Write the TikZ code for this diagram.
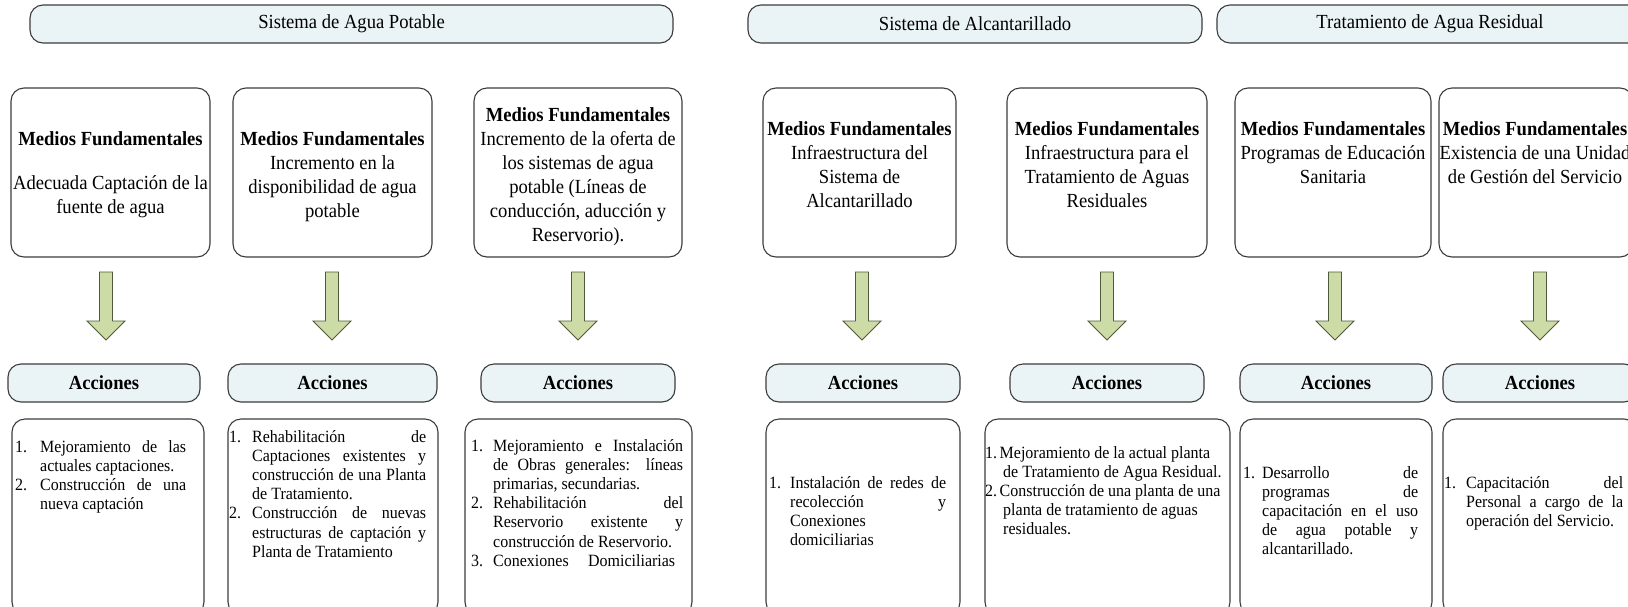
\documentclass[tikz,border=0pt]{standalone}
\usepackage{fontspec}
\setmainfont{Liberation Serif}[FakeStretch=0.93]

\definecolor{hdrfill}{HTML}{EAF4F7}
\definecolor{boxline}{HTML}{3C3C3C}
\definecolor{arrfill}{HTML}{CDDBA6}
\definecolor{arrline}{HTML}{4F5A3A}

\newcommand\fmain{\fontsize{20}{24}\selectfont}
\newcommand\flist{\fontsize{17.2}{19.2}\selectfont}

% list lines: number + justified text, number + plain text,
% continuation justified, continuation plain
\newcommand\numjust[4]{\makebox[#1pt][l]{#2}\makebox[#3pt][s]{#4}}
\newcommand\numplain[3]{\makebox[#1pt][l]{#2}#3}
\newcommand\contjust[3]{\hspace*{#1pt}\makebox[#2pt][s]{#3}}
\newcommand\contplain[2]{\hspace*{#1pt}#2}

\tikzset{
  frame/.style={draw=boxline, line width=1.1pt, rounded corners=13pt, inner sep=0pt},
  hdr/.style={frame, fill=hdrfill, minimum height=38pt, font=\fmain},
  acc/.style={frame, fill=hdrfill, minimum height=38pt, font=\fmain\bfseries},
  medio/.style={frame, minimum height=169pt},
  lbox/.style={frame, minimum height=196pt},
  mtext/.style={anchor=north, align=center, inner sep=0pt, font=\fmain},
  ltext/.style={anchor=north west, align=left, inner sep=0pt, font=\flist},
  blockarrow/.pic={
    \draw[fill=arrfill, draw=arrline, line width=0.9pt, line join=miter]
      (-6.5,0) -- (6.5,0) -- (6.5,49) -- (19,49) -- (0,68)
      -- (-19,49) -- (-6.5,49) -- cycle;
  }
}

\begin{document}
\begin{tikzpicture}[x=1pt, y=-1pt]
\useasboundingbox (0,0) rectangle (1628,606);
\clip (0,0) rectangle (1628,606);

% system headers
\node[hdr, minimum width=643pt] (h1) at (351.5,24) {Sistema de Agua Potable};
\node[hdr, minimum width=454pt] (h2) at (975,24) {Sistema de Alcantarillado};
\node[hdr, minimum width=426pt] (h3) at (1430,24) {Tratamiento de Agua Residual};

% medios fundamentales boxes
\node[medio, minimum width=199pt] (m1) at (110.5,172.5) {};
\node[medio, minimum width=199pt] (m2) at (332.5,172.5) {};
\node[medio, minimum width=208pt] (m3) at (578,172.5) {};
\node[medio, minimum width=193pt] (m4) at (859.5,172.5) {};
\node[medio, minimum width=200pt] (m5) at (1107,172.5) {};
\node[medio, minimum width=196pt] (m6) at (1333,172.5) {};
\node[medio, minimum width=194pt] (m7) at (1536,172.5) {};

\node[mtext] (m1t) at (110.5,131) {\textbf{Medios Fundamentales}\\[20pt]Adecuada Captación de la\\fuente de agua};
\node[mtext] (m2t) at (332.5,131) {\textbf{Medios Fundamentales}\\Incremento en la\\disponibilidad de agua\\potable};
\node[mtext] (m3t) at (578,107) {\textbf{Medios Fundamentales}\\Incremento de la oferta de\\los sistemas de agua\\potable (Líneas de\\conducción, aducción y\\Reservorio).};
\node[mtext] (m4t) at (859.5,121) {\textbf{Medios Fundamentales}\\Infraestructura del\\Sistema de\\Alcantarillado};
\node[mtext] (m5t) at (1107,121) {\textbf{Medios Fundamentales}\\Infraestructura para el\\Tratamiento de Aguas\\Residuales};
\node[mtext] (m6t) at (1333,121) {\textbf{Medios Fundamentales}\\Programas de Educación\\Sanitaria};
\node[mtext] (m7t) at (1535,121) {\textbf{Medios Fundamentales}\\Existencia de una Unidad\\de Gestión del Servicio};

% block arrows
\pic (p1) at (106,272) {blockarrow};
\pic (p2) at (332,272) {blockarrow};
\pic (p3) at (578,272) {blockarrow};
\pic (p4) at (862,272) {blockarrow};
\pic (p5) at (1107,272) {blockarrow};
\pic (p6) at (1335,272) {blockarrow};
\pic (p7) at (1540,272) {blockarrow};

% acciones headers
\node[acc, minimum width=192pt] (a1) at (104,383) {Acciones};
\node[acc, minimum width=209pt] (a2) at (332.5,383) {Acciones};
\node[acc, minimum width=194pt] (a3) at (578,383) {Acciones};
\node[acc, minimum width=194pt] (a4) at (863,383) {Acciones};
\node[acc, minimum width=194pt] (a5) at (1107,383) {Acciones};
\node[acc, minimum width=192pt] (a6) at (1336,383) {Acciones};
\node[acc, minimum width=194pt] (a7) at (1540,383) {Acciones};

% action lists
\node[lbox, minimum width=192pt] (l1) at (108,517) {};
\node[lbox, minimum width=210pt] (l2) at (333,517) {};
\node[lbox, minimum width=227pt] (l3) at (578.5,517) {};
\node[lbox, minimum width=194pt] (l4) at (863,517) {};
\node[lbox, minimum width=245pt] (l5) at (1107.5,517) {};
\node[lbox, minimum width=192pt] (l6) at (1336,517) {};
\node[lbox, minimum width=194pt] (l7) at (1540,517) {};

\node[ltext] (l1t) at (15,440) {%
\numjust{25}{1.}{146}{Mejoramiento de las}\\
\contplain{25}{actuales captaciones.}\\
\numjust{25}{2.}{146}{Construcción de una}\\
\contplain{25}{nueva captación}};

\node[ltext] (l2t) at (229,430) {%
\numjust{23}{1.}{174}{Rehabilitación de}\\
\contjust{23}{174}{Captaciones existentes y}\\
\contjust{23}{174}{construcción de una Planta}\\
\contplain{23}{de Tratamiento.}\\
\numjust{23}{2.}{174}{Construcción de nuevas}\\
\contjust{23}{174}{estructuras de captación y}\\
\contplain{23}{Planta de Tratamiento}};

\node[ltext] (l3t) at (471,439) {%
\numjust{22}{1.}{190}{Mejoramiento e Instalación}\\
\contjust{22}{190}{de Obras generales: líneas}\\
\contplain{22}{primarias, secundarias.}\\
\numjust{22}{2.}{190}{Rehabilitación del}\\
\contjust{22}{190}{Reservorio existente y}\\
\contplain{22}{construcción de Reservorio.}\\
\numjust{22}{3.}{182}{Conexiones Domiciliarias}};

\node[ltext] (l4t) at (769,476) {%
\numjust{21}{1.}{156}{Instalación de redes de}\\
\contjust{21}{156}{recolección y}\\
\contplain{21}{Conexiones}\\
\contplain{21}{domiciliarias}};

\node[ltext] (l5t) at (985,446) {%
\numplain{14.5}{1.}{Mejoramiento de la actual planta}\\
\contplain{18}{de Tratamiento de Agua Residual.}\\
\numplain{14.5}{2.}{Construcción de una planta de una}\\
\contplain{18}{planta de tratamiento de aguas}\\
\contplain{18}{residuales.}};

\node[ltext] (l6t) at (1243,466) {%
\numjust{19}{1.}{156}{Desarrollo de}\\
\contjust{19}{156}{programas de}\\
\contjust{19}{156}{capacitación en el uso}\\
\contjust{19}{156}{de agua potable y}\\
\contplain{19}{alcantarillado.}};

\node[ltext] (l7t) at (1444,476) {%
\numjust{22}{1.}{157}{Capacitación del}\\
\contjust{22}{157}{Personal a cargo de la}\\
\contplain{22}{operación del Servicio.}};
\end{tikzpicture}
\end{document}
